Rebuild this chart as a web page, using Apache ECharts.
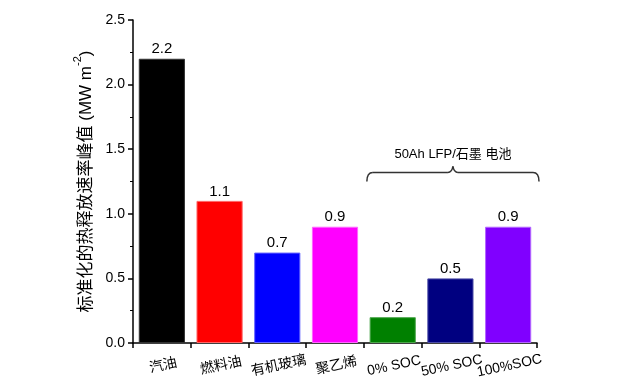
<!DOCTYPE html>
<html><head><meta charset="utf-8">
<script src="https://cdn.jsdelivr.net/npm/echarts@6/dist/echarts.min.js"></script>
<style>html,body{margin:0;padding:0;background:#fff}#c{width:640px;height:389px}</style>
</head><body><div id="c"></div>
<script>
var categories = ['汽油','燃料油','有机玻璃','聚乙烯','0% SOC','50% SOC','100%SOC'];
var values = [2.2, 1.1, 0.7, 0.9, 0.2, 0.5, 0.9];
var barColors = ['#000000','#ff0000','#0000ff','#ff00ff','#008000','#000080','#8000ff'];
var borderColors = ['#333333','#ff6666','#6666ff','#ff66ff','#4da64d','#4d4da6','#b366ff'];
var yTicks = [0.0, 0.5, 1.0, 1.5, 2.0, 2.5];
var braceText = '50Ah LFP/石墨 电池';
var braceFrom = 4, braceTo = 6;

var FONT = 'Liberation Sans, Arial, Noto Sans CJK SC, sans-serif';
var chart = echarts.init(document.getElementById('c'));
var option = {
  animation: false,
  backgroundColor: '#fff',
  grid: {left: 133, top: 20, right: 103, bottom: 46},
  xAxis: {
    type: 'category', data: categories,
    axisLine: {lineStyle: {color: '#000', width: 1.5}},
    axisTick: {show: true, length: 5, inside: false, lineStyle: {color: '#000', width: 1.5}},
    axisLabel: {rotate: 12, align: 'center', verticalAlign: 'top', margin: 16, color: '#000', fontSize: 14, fontFamily: FONT, interval: 0}
  },
  yAxis: {
    type: 'value', min: yTicks[0], max: yTicks[yTicks.length - 1], interval: 0.5,
    name: '{a|标准化的热释放速率峰值 (MW m}{s|-2}{a|)}',
    nameLocation: 'middle', nameGap: 30, nameRotate: 90,
    nameTextStyle: {
      color: '#000', fontFamily: FONT,
      rich: {
        a: {fontSize: 17, fontFamily: FONT, color: '#000', lineHeight: 22, verticalAlign: 'bottom'},
        s: {fontSize: 11, fontFamily: FONT, color: '#000', lineHeight: 22, verticalAlign: 'top'}
      }
    },
    axisLine: {show: true, lineStyle: {color: '#000', width: 1.5}},
    axisTick: {show: true, length: 5, lineStyle: {color: '#000', width: 1.5}},
    minorTick: {show: true, splitNumber: 2, length: 3, lineStyle: {color: '#000', width: 1}},
    splitLine: {show: false},
    axisLabel: {color: '#000', fontSize: 14, fontFamily: FONT, margin: 8,
      formatter: function(v){ return v.toFixed(1); }}
  },
  series: [{
    type: 'bar', barWidth: '80%',
    data: values.map(function(v, i){
      return {value: v, itemStyle: {color: barColors[i], borderColor: borderColors[i], borderWidth: 1}};
    }),
    label: {show: true, position: 'top', distance: 2, color: '#000', fontSize: 15, fontFamily: FONT,
      formatter: function(p){ return p.value.toFixed(1); }}
  }]
};
chart.setOption(option);

// brace annotation
var cat0 = chart.convertToPixel({xAxisIndex: 0}, categories[braceFrom]);
var cat1 = chart.convertToPixel({xAxisIndex: 0}, categories[braceTo]);
var bw = (cat1 - cat0) / (braceTo - braceFrom);
var x0 = cat0 - bw * 0.5 + 3, x1 = cat1 + bw * 0.5 + 2;
var yb = chart.convertToPixel({yAxisIndex: 0}, 1.32);
var xm = (x0 + x1) / 2;
var st = {fill: null, stroke: '#333', lineWidth: 1.5};
chart.setOption({
  graphic: [
    {type: 'bezierCurve', shape: {x1: x0, y1: yb + 9, x2: x0 + 6, y2: yb, cpx1: x0, cpy1: yb}, style: st},
    {type: 'line', shape: {x1: x0 + 6, y1: yb, x2: xm - 5, y2: yb}, style: st},
    {type: 'bezierCurve', shape: {x1: xm - 5, y1: yb, x2: xm, y2: yb - 6, cpx1: xm - 1, cpy1: yb}, style: st},
    {type: 'bezierCurve', shape: {x1: xm, y1: yb - 6, x2: xm + 5, y2: yb, cpx1: xm + 1, cpy1: yb}, style: st},
    {type: 'line', shape: {x1: xm + 5, y1: yb, x2: x1 - 6, y2: yb}, style: st},
    {type: 'bezierCurve', shape: {x1: x1 - 6, y1: yb, x2: x1, y2: yb + 9, cpx1: x1, cpy1: yb}, style: st},
    {type: 'text', x: xm, y: yb - 12, style: {text: braceText, fill: '#000', font: '13px ' + FONT, textAlign: 'center', textVerticalAlign: 'bottom'}}
  ]
});
</script>
</body></html>
